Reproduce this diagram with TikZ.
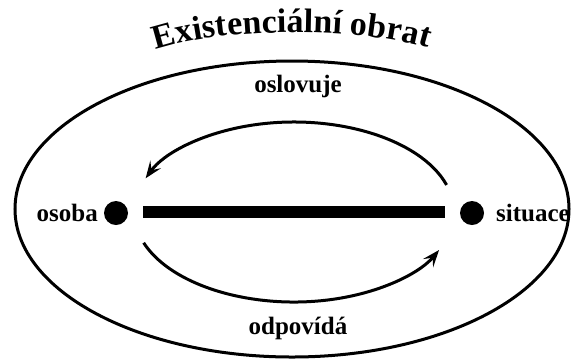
\documentclass[tikz,border=0pt]{standalone}
\usepackage{fontspec}
\setmainfont{Liberation Serif}
\usetikzlibrary{arrows.meta,decorations.text,shapes.geometric}
\begin{document}
\begin{tikzpicture}[x=1pt,y=1pt,
  lbl/.style={font=\fontsize{25}{25}\selectfont\bfseries, inner sep=0pt},
  dotnode/.style={circle, fill=black, minimum size=24pt, inner sep=0pt},
  arc/.style={line width=3pt, -{Stealth[length=17pt,width=13pt,inset=7pt]}}]
\useasboundingbox (0,0) rectangle (575,-360);
% outer ellipse
\node[draw, line width=3pt, ellipse, minimum width=554pt, minimum height=296pt, inner sep=0pt] (outer) at (292,-209) {};
% title
\path[decorate, decoration={text along path, text align=center,
  text={|\bfseries\fontsize{34}{34}\selectfont|Existenciální obrat}}]
  (150,-52) .. controls (220,-26) and (364,-26) .. (434,-50);
% dots
\node[dotnode] (os) at (116,-213) {};
\node[dotnode] (si) at (472,-213) {};
\node[lbl, anchor=east] (osl) at (98,-213) {osoba};
\node[lbl, anchor=west] (sil) at (496,-213) {situace};
% bar
\coordinate (b1) at (143,-212);
\coordinate (b2) at (445,-212);
\draw[line width=12pt] (b1) -- (b2);
% arcs
\coordinate (ac) at (294,-212);
\draw[arc] ([shift={(17.5:160 and 90)}]ac) arc[start angle=17.5, end angle=158, x radius=160, y radius=90];
\draw[arc] ([shift={(200:160 and 90)}]ac) arc[start angle=200, end angle=335, x radius=160, y radius=90];
\node[lbl] (top) at (298,-86) {oslovuje};
\node[lbl] (bot) at (298,-328) {odpovídá};
\end{tikzpicture}
\end{document}
